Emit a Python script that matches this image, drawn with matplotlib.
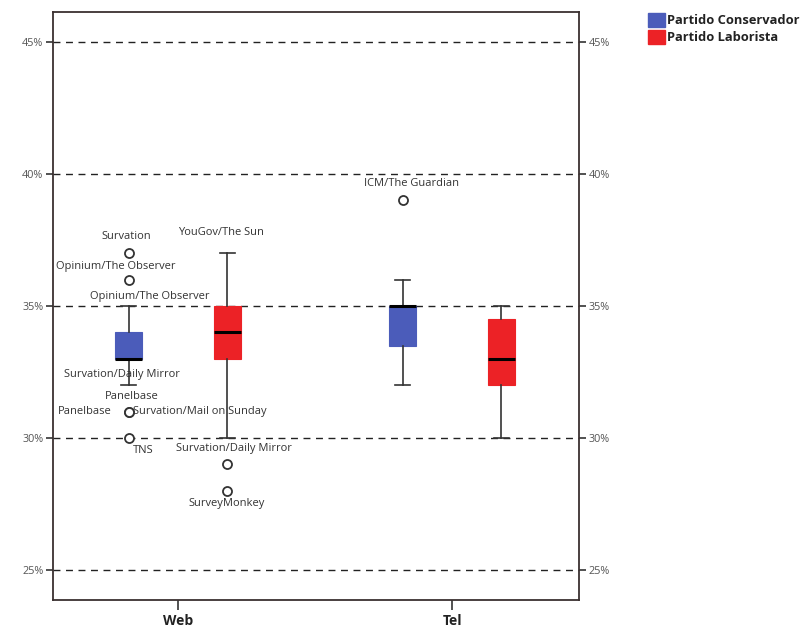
import matplotlib
matplotlib.use("Agg")
import matplotlib.pyplot as plt
from matplotlib.patches import Patch

plt.rcParams['font.family'] = ['Open Sans', 'DejaVu Sans']

# ---- data ----
categories = ["Web", "Tel"]
series = ["Partido Conservador", "Partido Laborista"]
colors = ["#4b5cba", "#ec2226"]

# box statistics (percent): [Web, Tel] for each series
cons_q1 = [33, 33.5]
cons_med = [33, 35]
cons_q3 = [34, 35]
cons_lo = [32, 32]
cons_hi = [35, 36]
cons_fliers = [[37, 36, 31, 31, 30], [39]]

lab_q1 = [33, 32]
lab_med = [34, 33]
lab_q3 = [35, 34.5]
lab_lo = [30, 30]
lab_hi = [37, 35]
lab_fliers = [[29, 28], []]

yticks = [25, 30, 35, 40, 45]

# labelled values: (series index, category index, value, text)
point_labels = [
    (0, 0, 37, "Survation"),
    (0, 0, 36, "Opinium/The Observer"),
    (0, 0, 35, "Opinium/The Observer"),
    (0, 0, 33, "Survation/Daily Mirror"),
    (0, 0, 31, "Panelbase"),
    (0, 0, 31, "Panelbase"),
    (0, 0, 31, "Survation/Mail on Sunday"),
    (0, 0, 30, "TNS"),
    (1, 0, 37, "YouGov/The Sun"),
    (1, 0, 30, "Survation/Daily Mirror"),
    (1, 0, 28, "SurveyMonkey"),
    (0, 1, 39, "ICM/The Guardian"),
]
# label offsets in pixels and alignment (style)
label_style = [
    (-2, 17, "center"),
    (-13, 13, "center"),
    (21, 10, "center"),
    (-7, -16, "center"),
    (3, 15, "center"),
    (-17, 0, "right"),
    (4, 0, "left"),
    (15, -13, "center"),
    (-6, 21, "center"),
    (7, -11, "center"),
    (-1, -13, "center"),
    (9, 17, "center"),
]

fig = plt.figure(figsize=(8.03, 6.32), dpi=100)
ax = fig.add_axes([53/803, 32/632, (579-53)/803, (600-12)/632])

cat_pos = [1, 2]
offset = 0.18
width = 0.097

all_stats = [
    (cons_q1, cons_med, cons_q3, cons_lo, cons_hi, cons_fliers),
    (lab_q1, lab_med, lab_q3, lab_lo, lab_hi, lab_fliers),
]
for si, (q1, med, q3, lo, hi, fl) in enumerate(all_stats):
    stats = []
    for ci in range(len(categories)):
        stats.append(dict(q1=q1[ci], med=med[ci], q3=q3[ci], whislo=lo[ci],
                          whishi=hi[ci], fliers=fl[ci]))
    pos = [p + (offset if si else -offset) for p in cat_pos]
    ax.bxp(stats, positions=pos, widths=width, patch_artist=True,
           showfliers=True, manage_ticks=False,
           boxprops=dict(facecolor=colors[si], edgecolor=colors[si], linewidth=0.8),
           medianprops=dict(color="black", linewidth=2.2),
           whiskerprops=dict(color="#333333", linewidth=1.2),
           capprops=dict(color="#333333", linewidth=1.2),
           capwidths=width * 0.55,
           flierprops=dict(marker="o", markersize=6.5, markerfacecolor="white",
                           markeredgecolor="#333333", markeredgewidth=1.3))

for (si, ci, val, txt), (dx, dy, ha) in zip(point_labels, label_style):
    x = cat_pos[ci] + (offset if si else -offset)
    ax.annotate(txt, xy=(x, val), xytext=(dx, dy), textcoords="offset pixels",
                ha=ha, va="center", fontsize=8, color="#333333", zorder=5)

for y in yticks:
    ax.axhline(y, color="#222222", linestyle=(0, (5, 4)), linewidth=1.0, zorder=0)

ax.set_xlim(0.544, 2.463)
ax.set_ylim(23.86, 46.14)
ax.set_xticks(cat_pos)
ax.set_xticklabels(categories, fontsize=10, fontweight="bold", color="#222222")
ax.set_yticks(yticks)
ax.set_yticklabels([f"{v}%" for v in yticks], fontsize=7.8, color="#555555")
ax.tick_params(axis="y", which="both", direction="out", length=5, width=1.2,
               color="#333333", left=True, right=True, labelleft=True,
               labelright=True, pad=2)
ax.tick_params(axis="x", direction="out", length=7, width=1.2, color="#333333", pad=3)
for s in ax.spines.values():
    s.set_color("#3a3030")
    s.set_linewidth(1.3)

handles = [Patch(facecolor=c, edgecolor=c) for c in colors]
leg = fig.legend(handles, series, loc="upper left", bbox_to_anchor=(648/803, 1 - 13/632),
                 frameon=False, handlelength=1.3, handleheight=1.3, handletextpad=0.2,
                 labelspacing=0.2, borderaxespad=0, borderpad=0,
                 prop=dict(size=9.3, weight="bold"))
for t in leg.get_texts():
    t.set_color("#222222")

fig.savefig("out.png", dpi=100)
